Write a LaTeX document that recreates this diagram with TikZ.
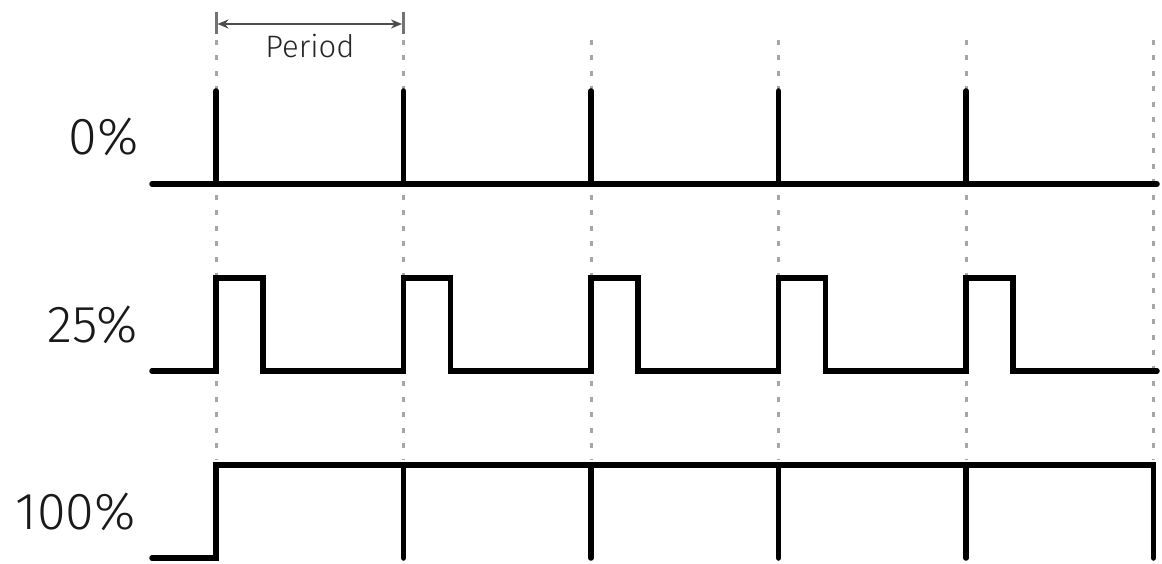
\documentclass[tikz,border=0pt]{standalone}
\usepackage{fontspec}
\setmainfont{Fira Sans Light}
\usetikzlibrary{arrows.meta}
\begin{document}
\begin{tikzpicture}[x=1pt,y=-1pt,
  grid/.style={draw=black!35,line width=3pt,line cap=butt,dash pattern=on 5pt off 10.5pt},
  sig/.style={draw=black,line width=5.5pt,line cap=round,line join=miter},
  lbl/.style={anchor=base east,inner sep=0pt,font=\fontsize{52}{60}\selectfont,text=black!90},
  perlbl/.style={anchor=base,inner sep=0pt,font=\fontsize{31}{36}\selectfont,text=black!85},
  dim/.style={draw=black!70,line width=2pt,{Stealth[length=11pt,width=9pt]}-{Stealth[length=11pt,width=9pt]}},
  endbar/.style={draw=black!55,line width=3pt}]
\useasboundingbox (0,0) rectangle (1162,564);
% grid lines
\foreach \x in {216,403.5,591,778.5,966,1153.5}{
  \draw[grid] (\x,40) -- (\x,460);
}
% period dimension
\coordinate (pa) at (217.5,24);
\coordinate (pb) at (402,24);
\draw[endbar] (216,12) -- (216,34);
\draw[endbar] (403.5,12) -- (403.5,34);
\draw[dim] (pa) -- (pb);
\node[perlbl] (period) at (310,58) {Period};
% labels
\node[lbl] (l0) at (139,155) {0\%};
\node[lbl] (l25) at (138,342) {25\%};
\node[lbl] (l100) at (136,529) {100\%};
% 0%
\draw[sig] (152,184) -- (1157,184);
\foreach \x in {216,403.5,591,778.5,966}{
  \draw[sig] (\x,91) -- (\x,184);
}
% 25%
\draw[sig] (152,371)
  -- (216,371) -- (216,278) -- (263,278) -- (263,371)
  -- (403.5,371) -- (403.5,278) -- (450.5,278) -- (450.5,371)
  -- (591,371) -- (591,278) -- (638,278) -- (638,371)
  -- (778.5,371) -- (778.5,278) -- (825.5,278) -- (825.5,371)
  -- (966,371) -- (966,278) -- (1013,278) -- (1013,371)
  -- (1157,371);
% 100%
\draw[sig] (152,558) -- (216,558) -- (216,465) -- (1153.5,465) -- (1153.5,558);
\foreach \x in {403.5,591,778.5,966}{
  \draw[sig] (\x,465) -- (\x,558);
}
\end{tikzpicture}
\end{document}
